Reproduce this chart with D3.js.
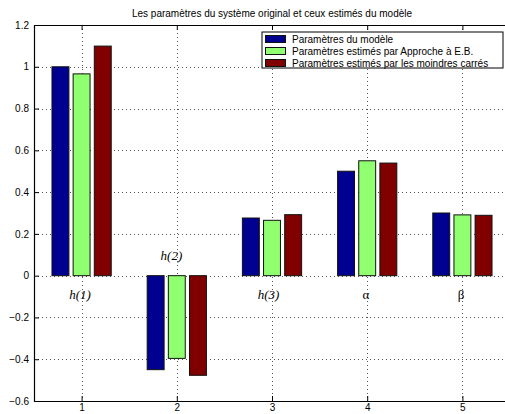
<!DOCTYPE html>
<html>
<head>
<meta charset="utf-8">
<script src="https://cdn.jsdelivr.net/npm/d3@7"></script>
<style>
  body { margin: 0; background: #fff; }
  text { font-family: "Liberation Sans", Arial, sans-serif; }
</style>
</head>
<body>
<div id="chart"></div>
<script>
// values
var groups = [1, 2, 3, 4, 5];
var modele = [1.0, -0.45, 0.276, 0.5, 0.3];
var approcheEB = [0.966, -0.396, 0.265, 0.55, 0.291];
var moindresCarres = [1.099, -0.477, 0.292, 0.539, 0.289];
var seriesNames = [
  "Paramètres du modèle",
  "Paramètres estimés par Approche à E.B.",
  "Paramètres estimés par les moindres carrés",
];
var colors = ["#000090", "#90FF70", "#800000"];
var yTicks = [-0.6, -0.4, -0.2, 0, 0.2, 0.4, 0.6, 0.8, 1, 1.2];
var annotTexts = ["h(1)", "h(2)", "h(3)", "α", "β"];
var annotX = [0.87, 1.83, 2.85, 3.95, 4.95];
var annotY = [-0.113, 0.077, -0.113, -0.113, -0.113];

var allSeries = [modele, approcheEB, moindresCarres];

var width = 505,
  height = 414;
var margin = { top: 25, right: -5, bottom: 13, left: 34 };

var svg = d3
  .select("#chart")
  .append("svg")
  .attr("width", width)
  .attr("height", height);

var x = d3
  .scaleLinear()
  .domain([0.5, 5.5])
  .range([margin.left, width - margin.right]);
var y = d3
  .scaleLinear()
  .domain([-0.6, 1.2])
  .range([height - margin.bottom, margin.top]);

// grouped bar geometry like matlab (3 series)
var groupWidth = 3 / 4.5;
var barStep = groupWidth / 3;
var barW = barStep * 0.8;

// dotted grid
var grid = svg.append("g").attr("class", "grid");
grid
  .selectAll("line.gy")
  .data(yTicks.slice(1, -1))
  .enter()
  .append("line")
  .attr("x1", x(0.5))
  .attr("x2", x(5.5))
  .attr("y1", (d) => Math.round(y(d)) + 0.5)
  .attr("y2", (d) => Math.round(y(d)) + 0.5)
  .attr("stroke", "#555")
  .attr("stroke-width", 1)
  .attr("stroke-dasharray", "1,3");
grid
  .selectAll("line.gx")
  .data(groups)
  .enter()
  .append("line")
  .attr("x1", (d) => Math.round(x(d)) + 0.5)
  .attr("x2", (d) => Math.round(x(d)) + 0.5)
  .attr("y1", y(1.2))
  .attr("y2", y(-0.6))
  .attr("stroke", "#555")
  .attr("stroke-width", 1)
  .attr("stroke-dasharray", "1,3");

// bars
allSeries.forEach(function (vals, s) {
  svg
    .append("g")
    .selectAll("rect")
    .data(vals)
    .enter()
    .append("rect")
    .attr("x", (d, i) => x(groups[i] + (s - 1) * barStep - barW / 2))
    .attr("y", (d) => y(Math.max(0, d)))
    .attr("width", x(barW) - x(0))
    .attr("height", (d) => Math.abs(y(d) - y(0)))
    .attr("fill", colors[s])
    .attr("stroke", "#111")
    .attr("stroke-width", 1);
});

// axes with inward ticks, box on
var axisBottom = d3
  .axisBottom(x)
  .tickValues(groups)
  .tickSizeInner(-5)
  .tickSizeOuter(0)
  .tickPadding(4)
  .tickFormat(d3.format("d"));
var gx = svg
  .append("g")
  .attr("transform", "translate(0," + y(-0.6) + ")")
  .call(axisBottom);
gx.selectAll("text").attr("font-size", 10).attr("fill", "#000").attr("dy", "0.55em");

var gxTop = svg
  .append("g")
  .attr("transform", "translate(0," + y(1.2) + ")")
  .call(d3.axisTop(x).tickValues(groups).tickSizeInner(-5).tickSizeOuter(0).tickFormat(""));

var axisLeft = d3
  .axisLeft(y)
  .tickValues(yTicks)
  .tickSizeInner(-5)
  .tickSizeOuter(0)
  .tickPadding(5)
  .tickFormat((d) => d3.format("")(d));
var gy = svg
  .append("g")
  .attr("transform", "translate(" + x(0.5) + ",0)")
  .call(axisLeft);
gy.selectAll("text").attr("font-size", 10).attr("fill", "#000");

svg.selectAll(".domain").attr("stroke", "#000").attr("stroke-width", 1.2);
svg.selectAll(".tick line").attr("stroke", "#000");

// title
svg
  .append("text")
  .attr("x", (x(0.5) + x(5.5)) / 2)
  .attr("y", 17)
  .attr("text-anchor", "middle")
  .attr("font-size", 10)
  .text("Les paramètres du système original et ceux estimés du modèle");

// parameter labels
svg
  .selectAll("text.annot")
  .data(annotTexts)
  .enter()
  .append("text")
  .attr("class", "annot")
  .attr("x", (d, i) => x(annotX[i]))
  .attr("y", (d, i) => y(annotY[i]))
  .attr("font-family", "'Liberation Serif', 'Times New Roman', serif")
  .style("font-family", "'Liberation Serif', 'Times New Roman', serif")
  .attr("font-style", (d, i) => (i < 3 ? "italic" : "normal"))
  .attr("font-size", 13)
  .text((d) => d);

// legend
var leg = svg.append("g").attr("transform", "translate(262,32)");
leg
  .append("rect")
  .attr("width", 241)
  .attr("height", 36)
  .attr("fill", "#fff")
  .attr("stroke", "#000")
  .attr("stroke-width", 1);
seriesNames.forEach(function (name, i) {
  leg
    .append("rect")
    .attr("x", 3.5)
    .attr("y", 3.5 + i * 12)
    .attr("width", 20)
    .attr("height", 7)
    .attr("fill", colors[i])
    .attr("stroke", "#111");
  leg
    .append("text")
    .attr("x", 30)
    .attr("y", 11 + i * 12)
    .attr("font-size", 10)
    .text(name);
});
</script>
</body>
</html>
